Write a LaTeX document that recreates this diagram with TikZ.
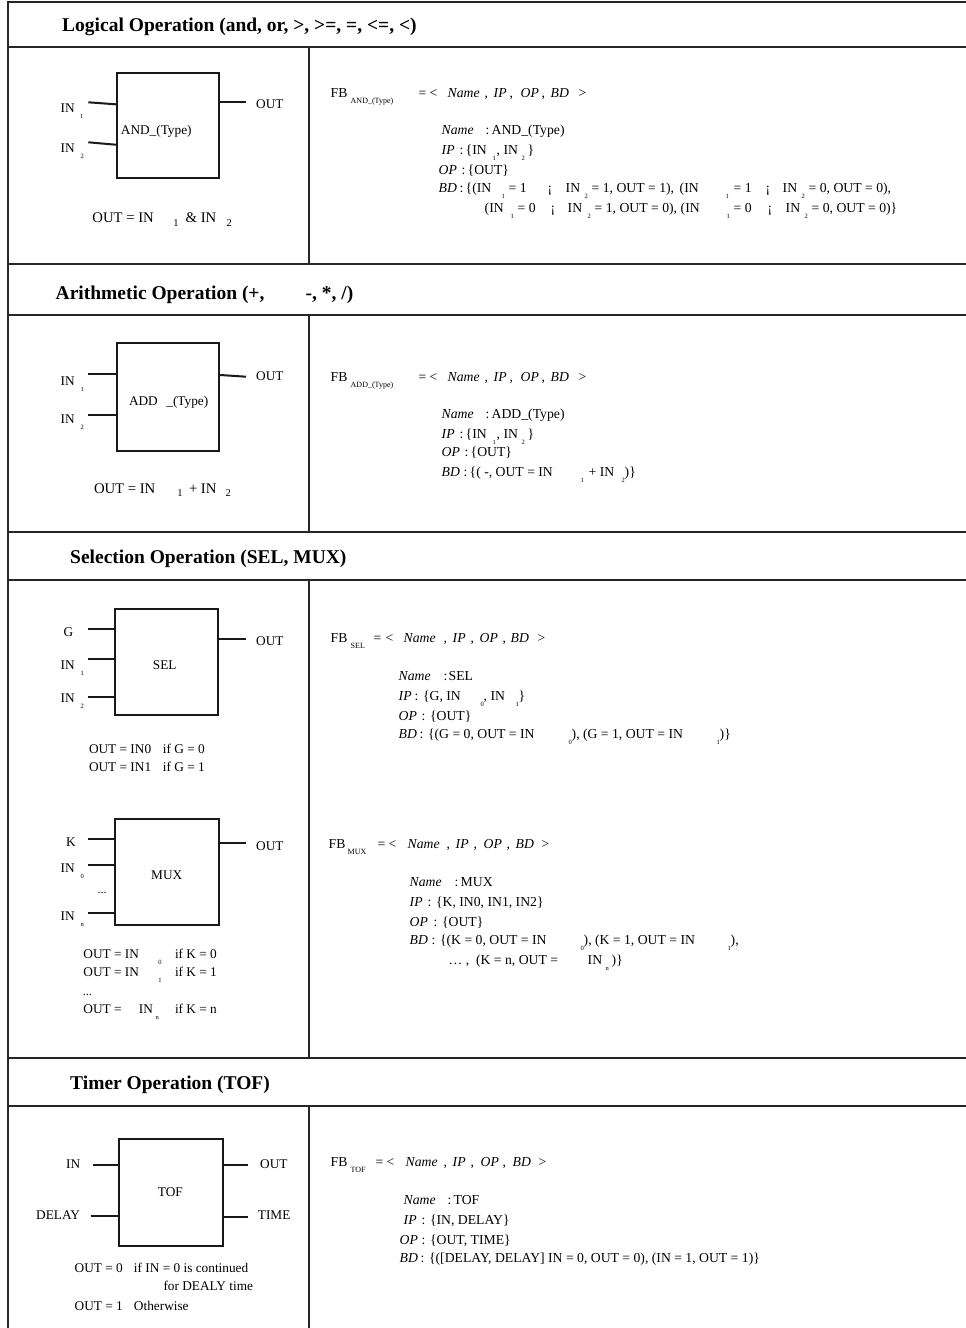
\documentclass[tikz,border=0pt]{standalone}
\usepackage{fontspec}
\setmainfont{Liberation Serif}
\usetikzlibrary{calc}

% place a fragment at a fixed offset (pt) from the start of the line
\newcommand{\fragat}[2]{\rlap{\hspace*{#1pt}#2}}
% subscripts of pin labels and of the small formulas
\newcommand{\pinsb}[1]{\raisebox{-6pt}{\fontsize{6.5}{7}\selectfont #1}}
% subscripts in the definition text
\newcommand{\defsb}[1]{\raisebox{-5.5pt}{\fontsize{6.5}{7}\selectfont #1}}
% subscript of FB
\newcommand{\fbsb}[1]{\raisebox{-6pt}{\fontsize{8}{9}\selectfont #1}}
% subscripts of the large formulas
\newcommand{\eqsb}[1]{\raisebox{-3.5pt}{\fontsize{10.5}{12}\selectfont #1}}

\begin{document}
\begin{tikzpicture}[x=1pt,y=-1pt,
  hrule/.style={line width=2.2pt, draw=black!85},
  vrule/.style={line width=1.5pt, draw=black!85},
  blk/.style={draw=black!90, line width=1.8pt, inner sep=0pt},
  pin/.style={line width=2pt, draw=black!90},
  lbl/.style={inner sep=0pt, anchor=base west, font=\fontsize{13.3}{15}\selectfont},
  dots/.style={inner sep=0pt, anchor=base west, font=\fontsize{12}{14}\selectfont},
  fml/.style={inner sep=0pt, anchor=base west, font=\fontsize{14.7}{17}\selectfont},
  rt/.style={inner sep=0pt, anchor=base west, font=\fontsize{13.7}{16}\selectfont},
  ttl/.style={inner sep=0pt, anchor=base west, font=\bfseries\fontsize{19.5}{22}\selectfont}]
\useasboundingbox (0,0) rectangle (966,1328);

% ---------------- table frame ----------------
\foreach \yy in {2,47,264,315,532,580,1058,1106}
  \draw[hrule] (8,\yy) -- (966,\yy);
\draw[vrule] (8,1) -- (8,1328);
\draw[vrule] (309,47) -- (309,264);
\draw[vrule] (309,315) -- (309,532);
\draw[vrule] (309,580) -- (309,1058);
\draw[vrule] (309,1106) -- (309,1328);

% ---------------- section titles ----------------
\node[ttl] (h1) at (62,31.5) {Logical Operation (and, or, >, >=, =, <=, <)};
\node[ttl] (h2) at (55,299.5) {\fragat{0}{Arithmetic Operation (+,}\fragat{250}{-, *, /)}};
\node[ttl] (h3) at (70,563.5) {Selection Operation (SEL, MUX)};
\node[ttl] (h4) at (70,1089.5) {Timer Operation (TOF)};

% ================= AND block =================
\node[blk, minimum width=102.6pt, minimum height=105.6pt] (andb) at (168,125.5) {};
\node[lbl] (andt) at (120.7,134.3) {AND\_(Type)};
\coordinate (a1) at (88.3,102.3);
\coordinate (a2) at (88.3,142.3);
\coordinate (ao) at (246,102.3);
\draw[pin] (a1) -- ($(a1 -| andb.west)+(0,2)$);
\draw[pin] (a2) -- ($(a2 -| andb.west)+(0,2.4)$);
\draw[pin] (andb.east |- ao) -- (ao);
\node[lbl] (ai1) at (60,112.7) {\fragat{0}{IN}\fragat{19.5}{\pinsb{1}}};
\node[lbl] (ai2) at (60,152.7) {\fragat{0}{IN}\fragat{20}{\pinsb{2}}};
\node[lbl] (aout) at (256,108.3) {OUT};
\node[fml] (aeq) at (91.7,222.5) {\fragat{0}{OUT = IN}\fragat{81}{\eqsb{1}}\fragat{93.3}{\& IN}\fragat{134.3}{\eqsb{2}}};

\node[rt] (fb1) at (330,97) {\fragat{0}{FB}\fragat{20}{\fbsb{AND\_(Type)}}\fragat{88}{=}\fragat{99}{<}\fragat{117}{\textit{Name}}\fragat{154}{,}\fragat{163}{\textit{IP}}\fragat{179}{,}\fragat{190}{\textit{OP}}\fragat{211}{,}\fragat{220}{\textit{BD}}\fragat{248}{>}};
\node[rt] (n1) at (441,134.5) {\fragat{0}{\textit{Name}}\fragat{44}{:}\fragat{50}{AND\_(Type)}};
\node[rt] (ip1) at (441,154.5) {\fragat{0}{\textit{IP}}\fragat{18}{:}\fragat{24}{\{IN}\fragat{51}{\defsb{1}}\fragat{55}{, IN}\fragat{80}{\defsb{2}}\fragat{86}{\}}};
\node[rt] (op1) at (438,174.5) {\fragat{0}{\textit{OP}}\fragat{23}{:}\fragat{29}{\{OUT\}}};
\node[rt] (bd1) at (438,192.5) {\fragat{0}{\textit{BD}}\fragat{21}{:}\fragat{27}{\{(IN}\fragat{63}{\defsb{1}}\fragat{70}{= 1}\fragat{109}{¡}\fragat{127}{IN}\fragat{146}{\defsb{2}}\fragat{153}{= 1, OUT = 1),}\fragat{241}{(IN}\fragat{287}{\defsb{1}}\fragat{295}{= 1}\fragat{327}{¡}\fragat{344}{IN}\fragat{363}{\defsb{2}}\fragat{370}{= 0, OUT = 0),}};
\node[rt] (bd1b) at (484,212.5) {\fragat{0}{(IN}\fragat{26}{\defsb{1}}\fragat{33}{= 0}\fragat{66}{¡}\fragat{83}{IN}\fragat{103}{\defsb{2}}\fragat{110}{= 1, OUT = 0),}\fragat{196}{(IN}\fragat{242}{\defsb{1}}\fragat{249}{= 0}\fragat{283}{¡}\fragat{301}{IN}\fragat{320}{\defsb{2}}\fragat{327}{= 0, OUT = 0)\}}};

% ================= ADD block =================
\node[blk, minimum width=102.6pt, minimum height=108pt] (addb) at (168,396.7) {};
\node[lbl] (addt) at (128.3,405) {\fragat{0}{ADD}\fragat{37.4}{\_(Type)}};
\coordinate (b1) at (88.3,374.3);
\coordinate (b2) at (88.3,414.7);
\coordinate (bo) at (246,376.7);
\draw[pin] (b1) -- (b1 -| addb.west);
\draw[pin] (b2) -- (b2 -| addb.west);
\draw[pin] ($(addb.east |- bo)+(0,-1.7)$) -- (bo);
\node[lbl] (bi1) at (60,385) {\fragat{0}{IN}\fragat{20}{\pinsb{1}}};
\node[lbl] (bi2) at (60,423.3) {\fragat{0}{IN}\fragat{20}{\pinsb{2}}};
\node[lbl] (bout) at (256,380.7) {OUT};
\node[fml] (beq) at (93.3,493) {\fragat{0}{OUT = IN}\fragat{83.4}{\eqsb{1}}\fragat{95}{+ IN}\fragat{131.7}{\eqsb{2}}};

\node[rt] (fb2) at (330,381.5) {\fragat{0}{FB}\fragat{20}{\fbsb{ADD\_(Type)}}\fragat{88}{=}\fragat{99}{<}\fragat{117}{\textit{Name}}\fragat{154}{,}\fragat{163}{\textit{IP}}\fragat{179}{,}\fragat{190}{\textit{OP}}\fragat{211}{,}\fragat{220}{\textit{BD}}\fragat{248}{>}};
\node[rt] (n2) at (441,418.5) {\fragat{0}{\textit{Name}}\fragat{44}{:}\fragat{50}{ADD\_(Type)}};
\node[rt] (ip2) at (441,438.5) {\fragat{0}{\textit{IP}}\fragat{18}{:}\fragat{24}{\{IN}\fragat{51}{\defsb{1}}\fragat{55}{, IN}\fragat{80}{\defsb{2}}\fragat{86}{\}}};
\node[rt] (op2) at (441,456.5) {\fragat{0}{\textit{OP}}\fragat{23}{:}\fragat{29}{\{OUT\}}};
\node[rt] (bd2) at (441,476.5) {\fragat{0}{\textit{BD}}\fragat{22}{:}\fragat{28}{\{(\ -, OUT = IN}\fragat{139}{\defsb{1}}\fragat{147}{+ IN}\fragat{180}{\defsb{2}}\fragat{183}{)\}}};

% ================= SEL block =================
\node[blk, minimum width=103.3pt, minimum height=106pt] (selb) at (166.7,662) {};
\node[lbl] (selt) at (152.7,669) {SEL};
\coordinate (cg) at (88.3,629);
\coordinate (c1) at (88.3,659);
\coordinate (c2) at (88.3,697);
\coordinate (co) at (246,639);
\draw[pin] (cg) -- (cg -| selb.west);
\draw[pin] (c1) -- (c1 -| selb.west);
\draw[pin] (c2) -- (c2 -| selb.west);
\draw[pin] (selb.east |- co) -- (co);
\node[lbl] (cgl) at (63.3,636.7) {G};
\node[lbl] (ci1) at (60,669) {\fragat{0}{IN}\fragat{20}{\pinsb{1}}};
\node[lbl] (ci2) at (60,702.7) {\fragat{0}{IN}\fragat{20}{\pinsb{2}}};
\node[lbl] (cout) at (256,645) {OUT};
\node[lbl] (ceq1) at (88.3,753.3) {\fragat{0}{OUT = IN0}\fragat{74}{if G = 0}};
\node[lbl] (ceq2) at (88.3,771) {\fragat{0}{OUT = IN1}\fragat{74}{if G = 1}};

\node[rt] (fb3) at (330,642.5) {\fragat{0}{FB}\fragat{20}{\fbsb{SEL}}\fragat{43}{=}\fragat{55}{<}\fragat{73}{\textit{Name}}\fragat{113}{,}\fragat{122}{\textit{IP}}\fragat{140}{,}\fragat{149}{\textit{OP}}\fragat{172}{,}\fragat{180}{\textit{BD}}\fragat{207}{>}};
\node[rt] (n3) at (398,680.5) {\fragat{0}{\textit{Name}}\fragat{45}{:}\fragat{50}{SEL}};
\node[rt] (ip3) at (398,700.5) {\fragat{0}{\textit{IP}}\fragat{16}{: \{G, IN}\fragat{82}{\defsb{0}}\fragat{85}{, IN}\fragat{117}{\defsb{1}}\fragat{120}{\}}};
\node[rt] (op3) at (398,720.5) {\fragat{0}{\textit{OP}}\fragat{23}{: \{OUT\}}};
\node[rt] (bd3) at (398,738.5) {\fragat{0}{\textit{BD}}\fragat{21}{: \{(G = 0, OUT = IN}\fragat{170}{\defsb{0}}\fragat{173}{), (G = 1, OUT = IN}\fragat{318}{\defsb{1}}\fragat{321}{)\}}};

% ================= MUX block =================
\node[blk, minimum width=104.3pt, minimum height=106pt] (muxb) at (167.2,872) {};
\node[lbl] (muxt) at (151,879.3) {MUX};
\coordinate (dk) at (88.3,839);
\coordinate (d0) at (88.3,865);
\coordinate (dn) at (88.3,913.3);
\coordinate (do) at (246,842.7);
\draw[pin] (dk) -- (dk -| muxb.west);
\draw[pin] (d0) -- (d0 -| muxb.west);
\draw[pin] (dn) -- (dn -| muxb.west);
\draw[pin] (muxb.east |- do) -- (do);
\node[lbl] (dkl) at (66,846.7) {K};
\node[lbl] (di0) at (60,872.7) {\fragat{0}{IN}\fragat{20}{\pinsb{0}}};
\node[dots] (ddots) at (97.5,893) {...};
\node[lbl] (din) at (60,920.7) {\fragat{0}{IN}\fragat{20}{\pinsb{n}}};
\node[lbl] (dout) at (256,850.7) {OUT};
\node[lbl] (deq0) at (82.7,958.3) {\fragat{0}{OUT = IN}\fragat{75}{\pinsb{0}}\fragat{91.6}{if K = 0}};
\node[lbl] (deq1) at (82.7,976.7) {\fragat{0}{OUT = IN}\fragat{75}{\pinsb{1}}\fragat{91.6}{if K = 1}};
\node[dots] (deqd) at (82.7,995) {...};
\node[lbl] (deqn) at (82.7,1013.3) {\fragat{0}{OUT =}\fragat{55.6}{IN}\fragat{72.3}{\pinsb{n}}\fragat{91.6}{if K = n}};

\node[rt] (fb4) at (328,848.5) {\fragat{0}{FB}\fragat{19}{\fbsb{MUX}}\fragat{49}{=}\fragat{60}{<}\fragat{79}{\textit{Name}}\fragat{118}{,}\fragat{127}{\textit{IP}}\fragat{145}{,}\fragat{155}{\textit{OP}}\fragat{178}{,}\fragat{187}{\textit{BD}}\fragat{213}{>}};
\node[rt] (n4) at (409,886.5) {\fragat{0}{\textit{Name}}\fragat{45}{:}\fragat{51}{MUX}};
\node[rt] (ip4) at (409,906.5) {\fragat{0}{\textit{IP}}\fragat{18}{: \{K, IN0, IN1, IN2\}}};
\node[rt] (op4) at (409,926.5) {\fragat{0}{\textit{OP}}\fragat{24}{: \{OUT\}}};
\node[rt] (bd4) at (409,944.5) {\fragat{0}{\textit{BD}}\fragat{22}{: \{(K = 0, OUT = IN}\fragat{171}{\defsb{0}}\fragat{174}{), (K = 1, OUT = IN}\fragat{318}{\defsb{1}}\fragat{321}{),}};
\node[rt] (bd4b) at (448,964.5) {\fragat{0}{…\ ,\ \ (K = n, OUT =}\fragat{139}{IN}\fragat{157}{\defsb{n}}\fragat{163}{)\}}};

% ================= TOF block =================
\node[blk, minimum width=104.3pt, minimum height=106.7pt] (tofb) at (171.2,1192.3) {};
\node[lbl] (toft) at (157.7,1196.7) {TOF};
\coordinate (ein) at (92.7,1165);
\coordinate (edl) at (90.7,1215.7);
\coordinate (eout) at (247.7,1165);
\coordinate (etm) at (247.7,1217.3);
\draw[pin] (ein) -- (ein -| tofb.west);
\draw[pin] (edl) -- (edl -| tofb.west);
\draw[pin] (tofb.east |- eout) -- (eout);
\draw[pin] (tofb.east |- etm) -- (etm);
\node[lbl] (einl) at (66,1168.3) {IN};
\node[lbl] (edll) at (36,1219) {DELAY};
\node[lbl] (eoutl) at (260,1168.3) {OUT};
\node[lbl] (etml) at (257.7,1219) {TIME};
\node[lbl] (eeq0) at (74,1272.7) {\fragat{0}{OUT = 0}\fragat{59.3}{if IN = 0 is continued}};
\node[lbl] (eeqd) at (163.3,1290.7) {for DEALY time};
\node[lbl] (eeq1) at (74,1310) {\fragat{0}{OUT = 1}\fragat{59.3}{Otherwise}};

\node[rt] (fb5) at (330,1166.5) {\fragat{0}{FB}\fragat{20}{\fbsb{TOF}}\fragat{45}{=}\fragat{56}{<}\fragat{75}{\textit{Name}}\fragat{113}{,}\fragat{122}{\textit{IP}}\fragat{140}{,}\fragat{150}{\textit{OP}}\fragat{172}{,}\fragat{182}{\textit{BD}}\fragat{208}{>}};
\node[rt] (n5) at (403,1204.5) {\fragat{0}{\textit{Name}}\fragat{44}{:}\fragat{50}{TOF}};
\node[rt] (ip5) at (403,1224.5) {\fragat{0}{\textit{IP}}\fragat{18}{: \{IN, DELAY\}}};
\node[rt] (op5) at (399,1244.5) {\fragat{0}{\textit{OP}}\fragat{22}{: \{OUT, TIME\}}};
\node[rt] (bd5) at (399,1262.5) {\fragat{0}{\textit{BD}}\fragat{21}{: \{([DELAY, DELAY] IN = 0, OUT = 0), (IN = 1, OUT = 1)\}}};
\end{tikzpicture}
\end{document}
